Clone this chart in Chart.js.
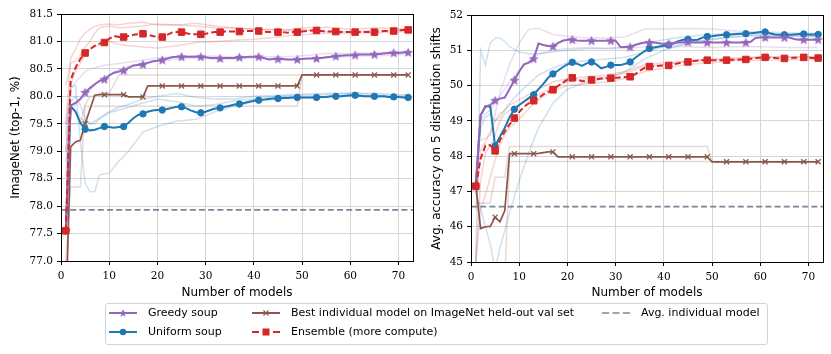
<!DOCTYPE html>
<html><head><meta charset="utf-8">
<script src="https://cdn.jsdelivr.net/npm/chart.js@4.4.1/dist/chart.umd.min.js"></script>
<style>
html,body{margin:0;padding:0;background:#fff;width:831px;height:354px;overflow:hidden;position:relative;}
#c1{position:absolute;left:0;top:0;width:420px;height:300px;}
#c2{position:absolute;left:420px;top:0;width:411px;height:300px;}
#legend{position:absolute;left:105px;top:303px;width:663px;height:42px;border:1px solid #d3d3d3;border-radius:3px;box-sizing:border-box;background:#fff;}
.lt{position:absolute;font-family:'DejaVu Sans',sans-serif;font-size:11px;color:#000;white-space:nowrap;line-height:14px;}
#lsvg{position:absolute;left:0;top:0;}
</style></head><body>
<canvas id="c1" width="420" height="300"></canvas>
<canvas id="c2" width="411" height="300"></canvas>
<div id="legend"></div>
<script>
// ---------- categories ----------
const N = Array.from({length: 72}, (_, i) => i + 1);          // number of models
const faintN = [1,2,3,4,5,6,7,8,10,12,14,17,20,24,28,32,36,40,45,49,50,55,60,66,72];
const xTicks = [0,10,20,30,40,50,60,70];
const yTicksL = [77.0,77.5,78.0,78.5,79.0,79.5,80.0,80.5,81.0,81.5];
const yTicksR = [45,46,47,48,49,50,51,52];

// ---------- left: ImageNet ----------
const greedyL = [77.55,79.83,79.88,79.95,80.07,80.15,80.22,80.28,80.31,80.38,80.43,80.45,
 80.47,80.52,80.56,80.57,80.58,80.61,80.64,80.65,80.66,80.69,80.71,80.72,
 80.72,80.72,80.72,80.72,80.72,80.71,80.70,80.70,80.69,80.70,80.70,80.70,
 80.71,80.71,80.72,80.72,80.72,80.70,80.67,80.68,80.68,80.68,80.67,80.67,
 80.67,80.68,80.69,80.69,80.69,80.70,80.71,80.72,80.73,80.74,80.75,80.75,
 80.75,80.76,80.76,80.76,80.76,80.77,80.78,80.79,80.79,80.79,80.80,80.80];
const uniformL = [77.55,79.82,79.72,79.52,79.40,79.38,79.39,79.42,79.45,79.44,79.43,79.44,
 79.45,79.52,79.60,79.66,79.68,79.72,79.74,79.75,79.75,79.77,79.79,79.81,
 79.81,79.78,79.74,79.71,79.70,79.72,79.75,79.78,79.79,79.81,79.83,79.85,
 79.86,79.88,79.90,79.92,79.93,79.94,79.95,79.96,79.96,79.97,79.97,79.98,
 79.98,79.98,79.98,79.98,79.98,79.99,79.99,80.00,80.00,80.00,80.01,80.02,
 80.02,80.01,80.00,80.00,80.00,80.00,80.00,79.99,79.99,79.99,79.98,79.98];
const bestL = [76.00,79.08,79.17,79.20,79.50,79.76,80.02,80.03,80.03,80.03,80.03,80.03,
 80.03,79.99,79.99,79.99,79.99,80.19,80.19,80.19,80.19,80.19,80.19,80.19,
 80.19,80.19,80.19,80.19,80.19,80.19,80.19,80.19,80.19,80.19,80.19,80.19,
 80.19,80.19,80.19,80.19,80.19,80.19,80.19,80.19,80.19,80.19,80.19,80.19,
 80.19,80.39,80.39,80.39,80.39,80.39,80.39,80.39,80.39,80.39,80.39,80.39,
 80.39,80.39,80.39,80.39,80.39,80.39,80.39,80.39,80.39,80.39,80.39,80.39];
const ensL = [77.55,80.30,80.52,80.68,80.79,80.86,80.92,80.96,80.98,81.05,81.10,81.08,
 81.08,81.10,81.12,81.13,81.14,81.12,81.10,81.08,81.08,81.12,81.16,81.17,
 81.17,81.15,81.13,81.13,81.13,81.14,81.16,81.17,81.17,81.18,81.18,81.18,
 81.18,81.19,81.19,81.19,81.19,81.18,81.17,81.17,81.17,81.17,81.16,81.17,
 81.17,81.18,81.19,81.20,81.20,81.19,81.18,81.18,81.18,81.17,81.17,81.17,
 81.17,81.17,81.17,81.17,81.17,81.18,81.19,81.19,81.19,81.20,81.21,81.21];
const avgL = 77.93;
// faint runs (left), sampled at faintN
const ensFaintL1 = [79.50,80.70,80.85,81.05,81.15,81.22,81.28,81.30,81.32,81.30,81.33,81.35,81.30,81.30,81.33,81.28,81.25,81.22,81.20,81.22,81.25,81.26,81.22,81.25,81.22];
const ensFaintL2 = [80.20,80.60,80.65,80.75,80.90,81.00,81.15,81.25,81.28,81.25,81.26,81.28,81.32,81.30,81.28,81.25,81.24,81.22,81.22,81.20,81.22,81.18,81.18,81.20,81.20];
const ensFaintL3 = [79.00,80.20,80.45,80.60,80.75,80.85,80.90,80.95,81.00,80.95,80.92,80.90,80.88,80.92,80.98,81.00,81.02,81.04,81.08,81.12,81.12,81.15,81.15,81.16,81.18];
const greedyFaintL1 = [79.50,80.15,80.25,80.35,80.45,80.50,80.52,80.55,80.58,80.60,80.62,80.66,80.70,80.72,80.74,80.73,80.72,80.72,80.72,80.73,80.74,80.78,80.78,80.80,80.82];
const greedyFaintL2 = [78.80,79.70,79.85,79.95,80.00,80.10,80.20,80.30,80.40,80.48,80.55,80.60,80.64,80.68,80.70,80.68,80.68,80.70,80.66,80.66,80.68,80.70,80.73,80.74,80.76];
const uniformFaintL1 = [79.30,80.15,80.20,79.20,78.42,78.26,78.26,78.57,78.60,78.82,79.00,79.35,79.45,79.55,79.58,79.72,79.82,79.90,79.95,79.97,79.97,79.98,80.00,79.99,79.98];
const uniformFaintL2 = [78.50,79.90,80.00,79.85,79.60,79.50,79.50,79.60,79.70,79.75,79.80,79.88,79.95,79.90,79.82,79.85,79.92,79.95,80.00,80.02,80.02,80.03,80.05,80.02,80.00];
const uniformFaintL3 = [79.00,79.80,79.75,79.60,79.55,79.50,79.55,79.60,79.72,79.80,79.85,79.95,80.00,80.05,79.98,79.95,79.95,80.00,80.02,80.04,80.04,80.05,80.06,80.05,80.02];
const bestFaintL1 = [77.00,78.35,78.35,78.35,79.82,79.82,79.82,79.82,79.82,79.82,79.82,79.82,79.82,79.82,79.82,79.82,79.82,79.82,79.82,79.82,80.39,80.39,80.39,80.39,80.39];
const bestFaintL2 = [79.50,79.50,79.50,79.50,79.85,80.00,80.00,80.05,80.05,80.39,80.39,80.39,80.39,80.39,80.39,80.39,80.39,80.39,80.39,80.39,80.39,80.39,80.39,80.39,80.39];

// ---------- right: 5 distribution shifts ----------
const greedyR = [47.15,49.16,49.40,49.45,49.58,49.63,49.66,49.90,50.15,50.40,50.60,50.65,
 50.76,51.19,51.15,51.12,51.11,51.20,51.27,51.30,51.30,51.28,51.27,51.27,
 51.27,51.27,51.27,51.27,51.27,51.27,51.09,51.09,51.09,51.15,51.19,51.22,
 51.22,51.22,51.20,51.18,51.18,51.20,51.22,51.23,51.23,51.22,51.22,51.22,
 51.22,51.22,51.22,51.22,51.22,51.22,51.22,51.22,51.22,51.24,51.35,51.36,
 51.36,51.36,51.36,51.36,51.36,51.36,51.32,51.30,51.30,51.30,51.30,51.30];
const uniformR = [47.15,49.16,49.42,49.40,48.29,48.55,48.80,49.10,49.33,49.45,49.55,49.65,
 49.74,49.90,50.05,50.22,50.33,50.42,50.52,50.60,50.66,50.62,50.56,50.63,
 50.67,50.60,50.49,50.53,50.58,50.58,50.58,50.62,50.67,50.78,50.88,50.98,
 51.05,51.08,51.11,51.13,51.15,51.20,51.26,51.30,51.31,51.29,51.30,51.36,
 51.39,51.40,51.42,51.43,51.44,51.45,51.46,51.47,51.47,51.48,51.50,51.52,
 51.52,51.48,51.45,51.44,51.44,51.44,51.45,51.46,51.46,51.45,51.45,51.45];
const bestR = [47.15,45.95,46.00,46.01,46.27,46.14,46.45,48.07,48.07,48.07,48.07,48.07,
 48.07,48.08,48.10,48.12,48.12,47.98,47.98,47.98,47.98,47.98,47.98,47.98,
 47.98,47.98,47.98,47.98,47.98,47.98,47.98,47.98,47.98,47.98,47.98,47.98,
 47.98,47.98,47.98,47.98,47.98,47.98,47.98,47.98,47.98,47.98,47.98,47.98,
 47.98,47.84,47.84,47.84,47.84,47.84,47.84,47.84,47.84,47.84,47.84,47.84,
 47.84,47.84,47.84,47.84,47.84,47.84,47.84,47.84,47.84,47.84,47.84,47.84];
const ensR = [47.15,47.93,48.30,48.31,48.15,48.45,48.70,48.90,49.08,49.25,49.40,49.50,
 49.57,49.65,49.75,49.82,49.88,49.98,50.08,50.17,50.22,50.18,50.12,50.14,
 50.16,50.18,50.20,50.21,50.21,50.22,50.23,50.24,50.25,50.32,50.42,50.50,
 50.54,50.55,50.56,50.57,50.57,50.60,50.63,50.66,50.67,50.69,50.71,50.72,
 50.72,50.72,50.72,50.72,50.72,50.73,50.73,50.74,50.74,50.76,50.78,50.79,
 50.80,50.79,50.78,50.77,50.77,50.78,50.79,50.79,50.80,50.79,50.78,50.78];
const avgR = 46.57;
const ensFaintR1 = [45.00,47.30,48.10,48.30,48.60,49.00,49.20,49.30,49.45,49.60,49.75,49.95,50.10,50.20,50.25,50.35,50.55,50.60,50.68,50.72,50.72,50.75,50.80,50.82,50.82];
const ensFaintR2 = [45.00,46.50,46.90,47.40,47.90,48.30,48.60,48.80,49.05,49.35,49.60,49.85,50.00,50.05,50.10,50.20,50.40,50.50,50.60,50.65,50.65,50.70,50.72,50.73,50.73];
const ensFaintR3 = [46.50,48.20,48.40,48.70,49.00,49.20,49.30,49.45,49.60,49.75,49.90,50.10,50.20,50.25,50.30,50.40,50.60,50.65,50.70,50.75,50.75,50.78,50.82,50.80,50.80];
const uniformFaintR1 = [45.00,51.00,50.58,51.20,51.35,51.35,51.25,51.10,50.95,50.90,50.90,50.95,51.00,51.05,51.05,51.10,51.20,51.30,51.40,51.45,51.45,51.48,51.50,51.45,51.42];
const uniformFaintR2 = [47.00,46.50,46.00,45.50,44.80,45.40,45.90,46.40,47.30,48.10,48.80,49.50,49.90,50.10,50.20,50.40,50.75,51.00,51.20,51.30,51.30,51.38,51.42,51.40,51.38];
const uniformFaintR3 = [47.20,48.80,49.10,49.20,49.00,49.10,49.30,49.50,49.80,50.05,50.30,50.50,50.65,50.70,50.75,50.80,50.95,51.10,51.20,51.30,51.32,51.40,51.45,51.42,51.40];
const greedyFaintR1 = [48.40,48.45,48.50,48.60,49.20,49.80,50.20,50.60,51.20,51.60,51.62,51.45,51.40,51.35,51.35,51.38,51.60,51.60,51.62,51.60,51.60,51.55,51.52,51.50,51.48];
const greedyFaintR2 = [47.50,49.00,49.20,49.30,49.50,49.70,49.90,50.10,50.45,50.70,50.90,51.00,51.05,51.08,51.05,51.05,51.10,51.10,51.10,51.08,51.08,51.10,51.10,51.08,51.08];
const bestFaintR1 = [46.67,46.67,46.67,46.67,47.40,47.40,47.40,48.27,48.27,48.27,48.27,48.27,48.27,48.27,48.27,48.27,48.27,48.27,48.27,48.27,47.84,47.84,47.84,47.84,47.84];
const bestFaintR2 = [44.50,44.50,44.50,44.50,44.50,44.50,44.50,47.85,47.85,47.85,47.85,47.85,47.85,47.85,47.85,47.85,47.85,47.85,47.85,47.85,47.85,47.85,47.85,47.85,47.85];

// ---------- styles ----------
const C = {purple:'#9467bd', blue:'#1f77b4', brown:'#8c564b', red:'#d62728', avg:'#778899'};
const FA = {purple:'rgba(148,103,189,0.22)', blue:'rgba(31,119,180,0.22)', brown:'rgba(140,86,75,0.22)', red:'rgba(214,39,40,0.2)'};
const markIdx = new Set();
for (let i = 0; i < N.length; i += 4) markIdx.add(i);
markIdx.add(N.length - 1);

function starPoints(cx, cy, R, r) {
  const p = [];
  for (let k = 0; k < 10; k++) {
    const a = -Math.PI / 2 + k * Math.PI / 5, rad = k % 2 ? r : R;
    p.push([cx + rad * Math.cos(a), cy + rad * Math.sin(a)]);
  }
  return p;
}
const starImg = document.createElement('canvas');
starImg.width = 11; starImg.height = 11;
(function(){
  const g = starImg.getContext('2d');
  g.fillStyle = C.purple; g.strokeStyle = C.purple; g.lineWidth = 0.8;
  g.beginPath();
  starPoints(5.5, 5.8, 4.4, 1.9).forEach((p, i) => i ? g.lineTo(p[0], p[1]) : g.moveTo(p[0], p[1]));
  g.closePath(); g.fill(); g.stroke();
})();

function mainDS(label, ys, color, style, r, order, extra) {
  return Object.assign({
    label, data: ys.map((y, i) => ({x: N[i], y})),
    borderColor: color, backgroundColor: color, borderWidth: 2,
    pointStyle: style, pointRadius: c => markIdx.has(c.dataIndex) ? r : 0,
    pointBackgroundColor: color, pointBorderColor: color, pointBorderWidth: 1,
    tension: 0, fill: false, clip: 0, order
  }, extra || {});
}
function faintDS(ys, color) {
  return {data: ys.map((y, i) => ({x: faintN[i], y})), borderColor: color, backgroundColor: color,
    borderWidth: 1.5, pointRadius: 0, tension: 0, fill: false, clip: 0, order: 10};
}
function avgDS(v) {
  return {data: [{x: 0, y: v}, {x: 73, y: v}], borderColor: C.avg, borderWidth: 1.7,
    borderDash: [6, 3.2], pointRadius: 0, fill: false, clip: 0, order: 5};
}

const frame = {id: 'frame', afterDraw(chart) {
  const {ctx, chartArea: a} = chart;
  ctx.save(); ctx.strokeStyle = '#000'; ctx.lineWidth = 1;
  ctx.strokeRect(Math.round(a.left) + 0.5, Math.round(a.top) + 0.5,
                 Math.round(a.right) - Math.round(a.left), Math.round(a.bottom) - Math.round(a.top));
  ctx.restore();
}};

const tickFont = {family: 'DejaVu Serif', size: 10.5};
const titleFont = {family: 'DejaVu Sans', size: 12};

function makeChart(id, datasets, yMin, yMax, yStep, yFmt, yTitle, yWidth, pad, xH, titlePad) {
  new Chart(document.getElementById(id), {
    type: 'line',
    data: {datasets},
    options: {
      responsive: false, animation: false, devicePixelRatio: 1, events: [],
      layout: {padding: pad},
      plugins: {legend: {display: false}, tooltip: {enabled: false}},
      scales: {
        x: {type: 'linear', min: 0, max: 73,
          afterBuildTicks: s => { s.ticks = xTicks.map(v => ({value: v})); },
          ticks: {font: tickFont, color: '#000', padding: 5, maxRotation: 0, autoSkip: false, callback: v => String(v)},
          grid: {color: '#d6d6d6', lineWidth: 1, tickLength: 4, tickColor: '#000', tickWidth: 1},
          border: {display: false},
          title: {display: true, text: 'Number of models', font: titleFont, color: '#000', padding: {top: 0, bottom: 0}},
          afterFit: s => { s.height = xH; }},
        y: {type: 'linear', min: yMin, max: yMax,
          afterBuildTicks: s => { s.ticks = yStep.map(v => ({value: v})); },
          ticks: {font: tickFont, color: '#000', padding: 4, autoSkip: false, callback: yFmt},
          grid: {color: '#d6d6d6', lineWidth: 1, tickLength: 4, tickColor: '#000', tickWidth: 1},
          border: {display: false},
          title: {display: true, text: yTitle, font: titleFont, color: '#000', padding: {top: titlePad, bottom: 0}},
          afterFit: s => { s.width = yWidth; }}
      }
    },
    plugins: [frame]
  });
}

makeChart('c1', [
  mainDS('Ensemble (more compute)', ensL, C.red, 'rect', 4.6, 0, {borderDash: [6, 3]}),
  mainDS('Greedy soup', greedyL, C.purple, starImg, 3, 1),
  mainDS('Uniform soup', uniformL, C.blue, 'circle', 3.2, 2),
  mainDS('Best individual model on ImageNet held-out val set', bestL, C.brown, 'crossRot', 3.6, 3, {borderWidth: 1.7, pointBorderWidth: 1.3}),
  avgDS(avgL),
  faintDS(ensFaintL1, FA.red), faintDS(ensFaintL2, FA.red), faintDS(ensFaintL3, FA.red),
  faintDS(greedyFaintL1, FA.purple), faintDS(greedyFaintL2, FA.purple),
  faintDS(uniformFaintL1, FA.blue), faintDS(uniformFaintL2, FA.blue), faintDS(uniformFaintL3, FA.blue),
  faintDS(bestFaintL1, FA.brown), faintDS(bestFaintL2, FA.brown)
], 77, 81.5, yTicksL, v => v.toFixed(1), 'ImageNet (top-1, %)', 61, {top: 14, right: 7, left: 0, bottom: 0}, 39, 9);

makeChart('c2', [
  mainDS('Ensemble (more compute)', ensR, C.red, 'rect', 4.6, 0, {borderDash: [6, 3]}),
  mainDS('Greedy soup', greedyR, C.purple, starImg, 3, 1),
  mainDS('Uniform soup', uniformR, C.blue, 'circle', 3.2, 2),
  mainDS('Best individual model on ImageNet held-out val set', bestR, C.brown, 'crossRot', 3.6, 3, {borderWidth: 1.7, pointBorderWidth: 1.3}),
  avgDS(avgR),
  faintDS(ensFaintR1, FA.red), faintDS(ensFaintR2, FA.red), faintDS(ensFaintR3, FA.red),
  faintDS(greedyFaintR1, FA.purple), faintDS(greedyFaintR2, FA.purple),
  faintDS(uniformFaintR1, FA.blue), faintDS(uniformFaintR2, FA.blue), faintDS(uniformFaintR3, FA.blue),
  faintDS(bestFaintR1, FA.brown), faintDS(bestFaintR2, FA.brown)
], 45, 52, yTicksR, v => String(v), 'Avg. accuracy on 5 distribution shifts', 51, {top: 15, right: 8, left: 0, bottom: 0}, 38, 10);

// ---------- legend ----------
const legendItems = [
  {text: 'Greedy soup', x: 109, y: 313, kind: 'star', color: C.purple},
  {text: 'Uniform soup', x: 109, y: 332, kind: 'circle', color: C.blue},
  {text: 'Best individual model on ImageNet held-out val set', x: 252, y: 313, kind: 'x', color: C.brown},
  {text: 'Ensemble (more compute)', x: 252, y: 332, kind: 'square', color: C.red},
  {text: 'Avg. individual model', x: 602, y: 313, kind: 'dash', color: C.avg}
];
let svg = '<svg id="lsvg" width="831" height="354" xmlns="http://www.w3.org/2000/svg">';
legendItems.forEach(it => {
  const x1 = it.x, x2 = it.x + 28, cx = it.x + 14, y = it.y;
  if (it.kind === 'square') {
    svg += `<line x1="${x1}" y1="${y}" x2="${x1+7}" y2="${y}" stroke="${it.color}" stroke-width="2"/>`;
    svg += `<line x1="${x2-7}" y1="${y}" x2="${x2}" y2="${y}" stroke="${it.color}" stroke-width="2"/>`;
    svg += `<rect x="${cx-3.5}" y="${y-3.5}" width="7" height="7" fill="${it.color}"/>`;
  } else if (it.kind === 'dash') {
    svg += `<line x1="${x1}" y1="${y}" x2="${x2}" y2="${y}" stroke="${it.color}" stroke-width="1.7" stroke-dasharray="7,3.5"/>`;
  } else {
    svg += `<line x1="${x1}" y1="${y}" x2="${x2}" y2="${y}" stroke="${it.color}" stroke-width="2"/>`;
    if (it.kind === 'circle') svg += `<circle cx="${cx}" cy="${y}" r="3.2" fill="${it.color}"/>`;
    if (it.kind === 'star') svg += `<polygon points="${starPoints(cx, y + 0.3, 4.2, 1.8).map(p => p[0].toFixed(2) + ',' + p[1].toFixed(2)).join(' ')}" fill="${it.color}"/>`;
    if (it.kind === 'x') svg += `<path d="M${cx-2.6},${y-2.6}L${cx+2.6},${y+2.6}M${cx-2.6},${y+2.6}L${cx+2.6},${y-2.6}" stroke="${it.color}" stroke-width="1.3"/>`;
  }
});
svg += '</svg>';
document.body.insertAdjacentHTML('beforeend', svg);
legendItems.forEach(it => {
  const d = document.createElement('div');
  d.className = 'lt';
  d.textContent = it.text;
  d.style.left = (it.x + 39) + 'px';
  d.style.top = (it.y - 7) + 'px';
  document.body.appendChild(d);
});
</script>
</body></html>
